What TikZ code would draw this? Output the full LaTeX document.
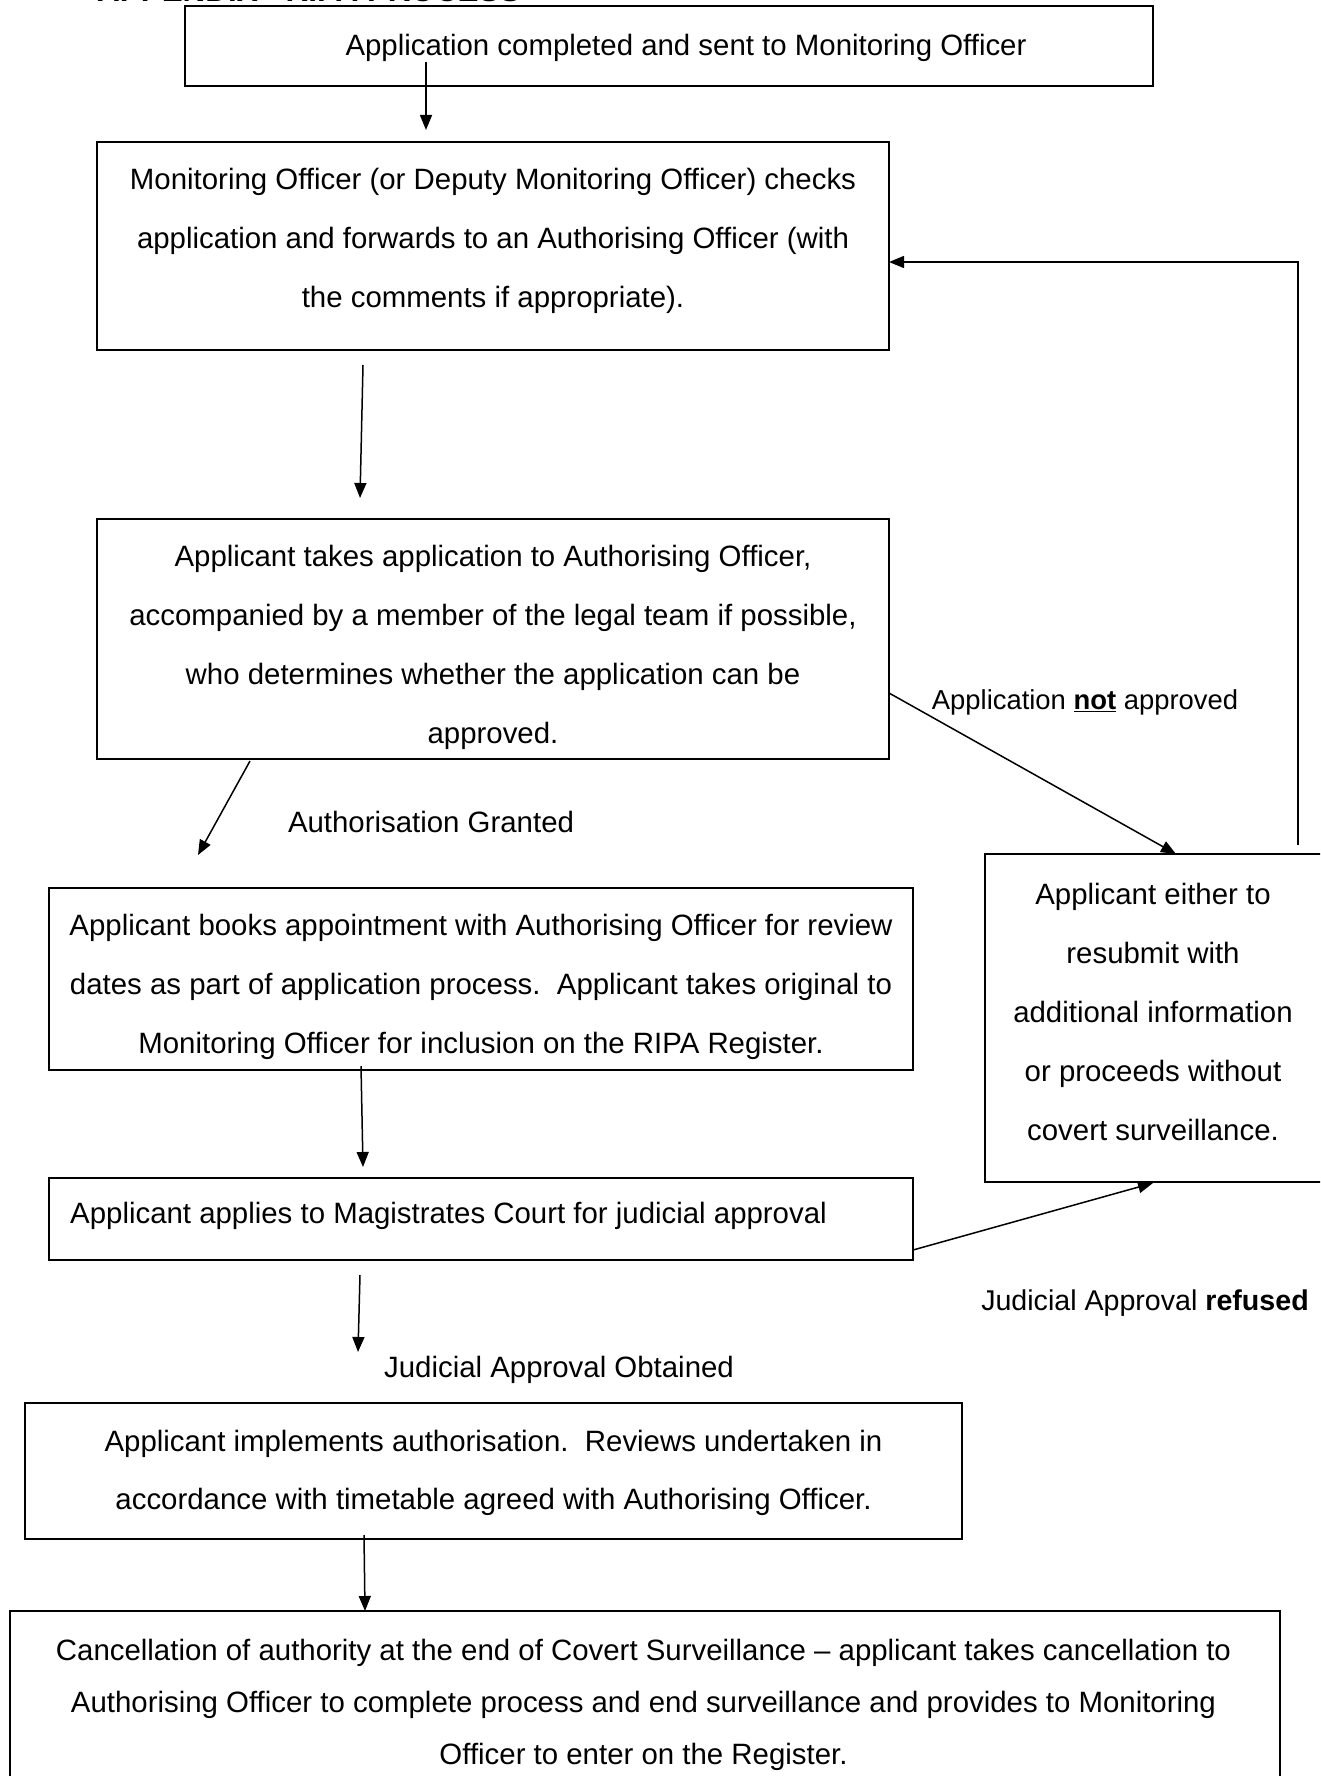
\documentclass[tikz,border=0pt]{standalone}
\usepackage{fontspec}
\setmainfont{Liberation Sans}
\usetikzlibrary{arrows.meta}
\begin{document}
\begin{tikzpicture}[x=1pt,y=-1pt,
  box/.style={draw, line width=1.6pt, inner sep=0pt},
  txt/.style={inner sep=0pt, align=center, font=\fontsize{29.4}{59}\selectfont},
  lbl/.style={inner sep=0pt, font=\fontsize{29.4}{34}\selectfont},
  arr/.style={line width=1.5pt, -{Triangle[length=15pt,width=12pt]}},
  ln/.style={line width=1.5pt}]
\useasboundingbox (0,0) rectangle (1320,1776);
\clip (0,0) rectangle (1320,1776);
% title (cut off at top in the reference)
\node[inner sep=0pt, anchor=base west, font=\fontsize{31.4}{36}\selectfont\bfseries] (title) at (97,2) {APPENDIX - RIPA PROCESS};
% boxes
\node[box, minimum width=968pt, minimum height=80pt] (b1) at (669,46) {};
\node[box, minimum width=792pt, minimum height=208pt] (b2) at (493,246) {};
\node[box, minimum width=792pt, minimum height=240pt] (b3) at (493,639) {};
\node[box, minimum width=340pt, minimum height=328pt] (bR) at (1155,1018) {};
\node[box, minimum width=864pt, minimum height=182pt] (b4) at (481,979) {};
\node[box, minimum width=864pt, minimum height=82pt] (b5) at (481,1219) {};
\node[box, minimum width=937pt, minimum height=136pt] (b6) at (493.5,1471) {};
\node[box, minimum width=1270pt, minimum height=188pt] (b7) at (645,1705) {};
% texts
\node[txt] (t1) at (686,48) {Application completed and sent to Monitoring Officer};
\node[txt] (t2) at (493,241) {Monitoring Officer (or Deputy Monitoring Officer) checks\\application and forwards to an Authorising Officer (with\\the comments if appropriate).};
\node[txt] (t3) at (493,647) {Applicant takes application to Authorising Officer,\\accompanied by a member of the legal team if possible,\\who determines whether the application can be\\approved.};
\node[txt] (tR) at (1153,1012) {Applicant either to\\resubmit with\\additional information\\or proceeds without\\covert surveillance.};
\node[txt] (t4) at (481,987) {Applicant books appointment with Authorising Officer for review\\dates as part of application process.\ \ Applicant takes original to\\Monitoring Officer for inclusion on the RIPA Register.};
\node[txt, anchor=west] (t5) at (70,1216) {Applicant applies to Magistrates Court for judicial approval};
\node[txt, font=\fontsize{29.4}{58}\selectfont] (t6) at (493.5,1473) {Applicant implements authorisation.\ \ Reviews undertaken in\\accordance with timetable agreed with Authorising Officer.};
\node[txt, font=\fontsize{29.4}{52}\selectfont] (t7) at (643.5,1705) {Cancellation of authority at the end of Covert Surveillance -- applicant takes cancellation to\\Authorising Officer to complete process and end surveillance and provides to Monitoring\\Officer to enter on the Register.};
% labels
\node[lbl, font=\fontsize{27.4}{32}\selectfont] (lNA) at (1085,702) {Application \underline{\textbf{not}} approved};
\node[lbl] (lAG) at (431,822) {Authorisation Granted};
\node[lbl, font=\fontsize{28.6}{33}\selectfont] (lJR) at (1145,1303) {Judicial Approval \textbf{refused}};
\node[lbl] (lJO) at (559,1370) {Judicial Approval Obtained};
% connector end points
\coordinate (a1s) at (426,62);   \coordinate (a1e) at (426,130);
\coordinate (a2s) at (363,365);  \coordinate (a2e) at (360,498);
\coordinate (a3s) at (889,693);  \coordinate (a3e) at (1176,854);
\coordinate (a4s) at (250,761);  \coordinate (a4e) at (198,855);
\coordinate (a5s) at (361,1066); \coordinate (a5e) at (363,1167);
\coordinate (a6s) at (913,1250); \coordinate (a6e) at (1153,1183);
\coordinate (a7s) at (360,1275); \coordinate (a7e) at (358,1352);
\coordinate (a8s) at (364,1535); \coordinate (a8e) at (365,1611);
\coordinate (fbS) at (1298,845); \coordinate (fbC) at (1298,262); \coordinate (fbE) at (889,262);
% connectors
\draw[arr] (a1s) -- (a1e);
\draw[arr] (a2s) -- (a2e);
\draw[arr] (a3s) -- (a3e);
\draw[arr] (a4s) -- (a4e);
\draw[arr] (a5s) -- (a5e);
\draw[arr] (a6s) -- (a6e);
\draw[arr] (a7s) -- (a7e);
\draw[arr] (a8s) -- (a8e);
\draw[arr] (fbS) -- (fbC) -- (fbE);
\end{tikzpicture}
\end{document}
